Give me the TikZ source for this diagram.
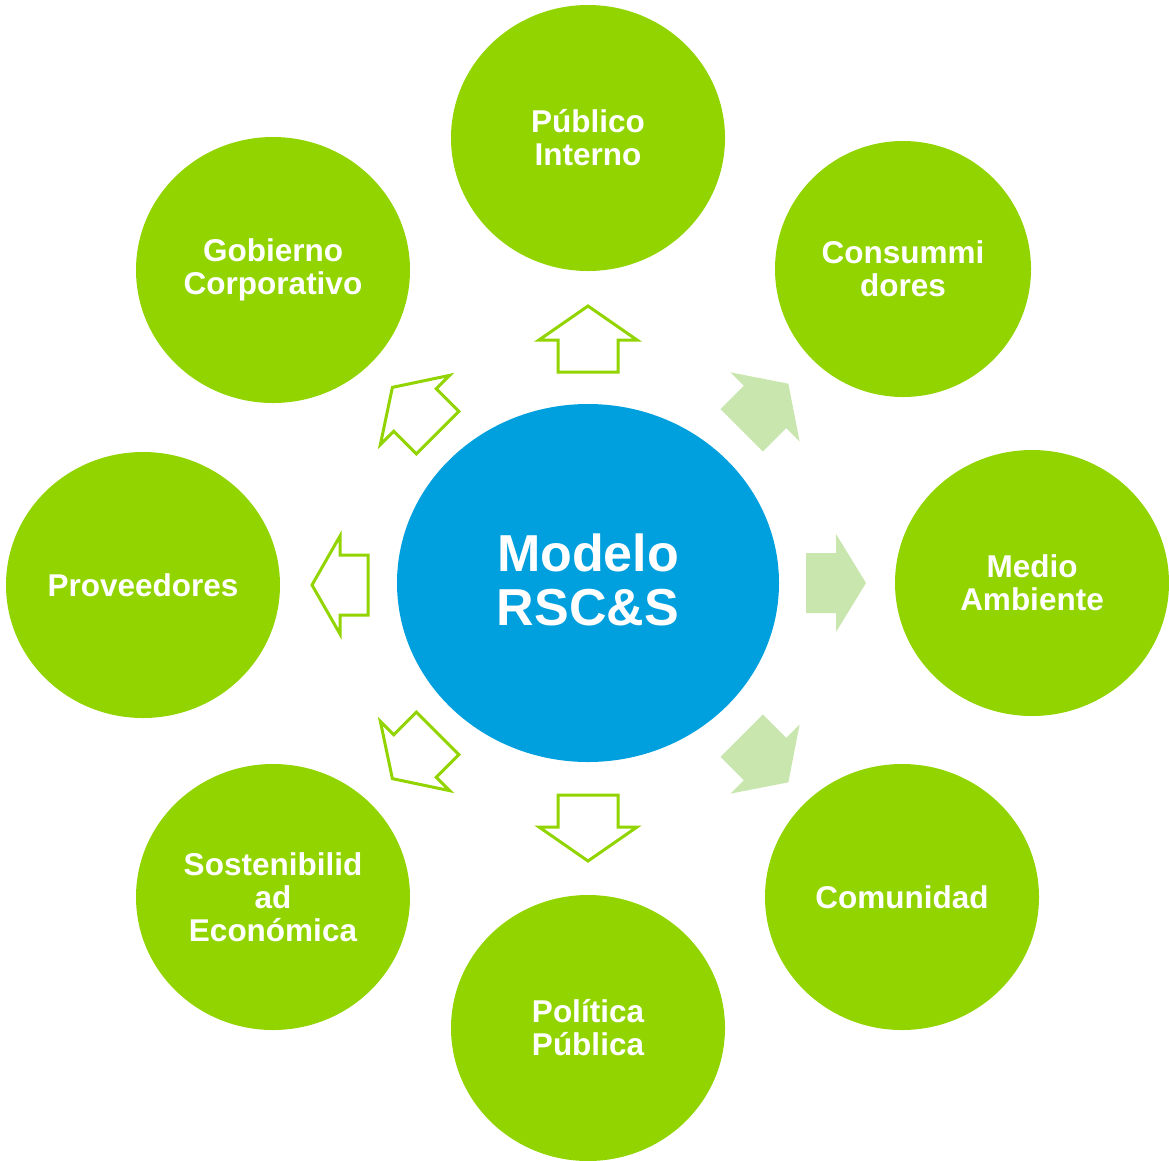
\documentclass[tikz,border=0pt]{standalone}
\usepackage{fontspec}
\setmainfont{Liberation Sans}
\usetikzlibrary{shapes.geometric}
\definecolor{rgreen}{RGB}{146,212,0}
\definecolor{rblue}{RGB}{0,160,222}
\definecolor{rlight}{RGB}{200,230,174}
\newcommand\blockarrow[6]{%
  \draw[#4, shift={(#1,#2)}, rotate=#3] (-#5,-30) -- (0,-30) -- (0,-49) -- (#6,0) -- (0,49) -- (0,30) -- (-#5,30) -- cycle;}
\begin{document}
\begin{tikzpicture}[x=1pt,y=-1pt,
  outer/.style={ellipse, fill=rgreen, draw=none, inner sep=0pt, minimum width=274pt, minimum height=266pt,
    text=white, align=center, font=\fontsize{31.5}{33}\selectfont\bfseries},
  hollow/.style={draw=rgreen, fill=white, line width=3pt, line join=miter},
  solid/.style={fill=rlight, draw=none}]
\useasboundingbox (0,0) rectangle (1169,1160);
\node[ellipse, fill=rblue, inner sep=0pt, minimum width=382pt, minimum height=358pt] (c) at (588,583) {};
\node[text=white, align=center, font=\fontsize{52}{54}\selectfont\bfseries] (ct) at (588,580) {Modelo\\RSC\&S};
\node[outer] (pi) at (588,138) {Público\\Interno};
\node[outer, minimum width=256pt, minimum height=256pt] (co) at (903,269) {Consummi\\dores};
\node[outer] (ma) at (1032,583) {Medio\\Ambiente};
\node[outer] (cm) at (902,897) {Comunidad};
\node[outer] (pp) at (588,1028) {Política\\Pública};
\node[outer] (se) at (273,897) {Sostenibilid\\ad\\Económica};
\node[outer] (pr) at (143,585) {Proveedores};
\node[outer] (gc) at (273,270) {Gobierno\\Corporativo};
% arrows
\blockarrow{588}{340}{90}{hollow}{32}{34}
\blockarrow{588}{827}{270}{hollow}{32}{34}
\blockarrow{340}{585}{180}{hollow}{28}{28}
\blockarrow{836}{583}{0}{solid}{30}{30}
\blockarrow{765}{407}{45}{solid}{33}{33}
\blockarrow{765}{759}{315}{solid}{33}{33}
\blockarrow{415}{410}{135}{hollow}{32}{32}
\blockarrow{415}{756}{225}{hollow}{32}{32}
\end{tikzpicture}
\end{document}
